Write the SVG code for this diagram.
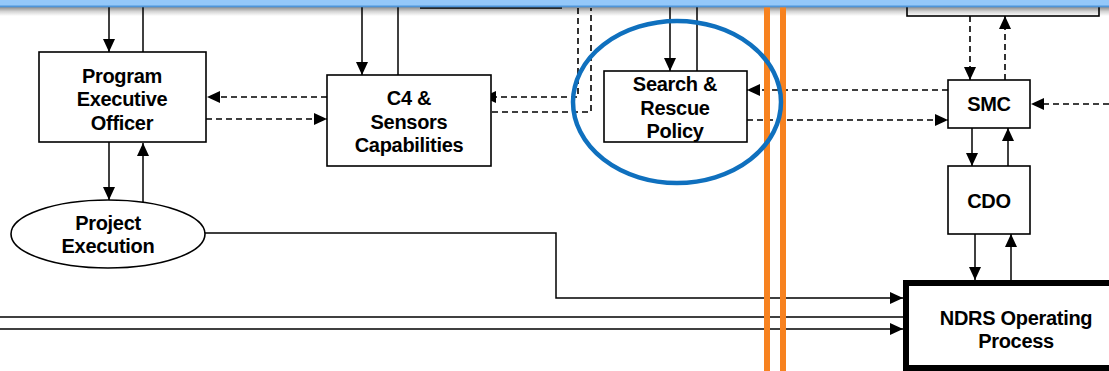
<svg xmlns="http://www.w3.org/2000/svg" width="1109" height="371" viewBox="0 0 1109 371">
  <defs>
    <marker id="arrow" markerUnits="userSpaceOnUse" markerWidth="14" markerHeight="13" refX="13" refY="6" orient="auto">
      <path d="M0,0 L13,6 L0,12 z" fill="#000"/>
    </marker>
    <linearGradient id="shadow" x1="0" y1="0" x2="0" y2="1">
      <stop offset="0" stop-color="#8c8c8c"/>
      <stop offset="0.5" stop-color="#d4d4d4"/>
      <stop offset="1" stop-color="#ffffff"/>
    </linearGradient>
    <style>
      .box { fill: #fff; stroke: #000; stroke-width: 1.6; }
      .open { fill: none; stroke: #000; stroke-width: 1.6; }
      .thick { fill: #fff; stroke: #000; stroke-width: 6; }
      .solid { fill: none; stroke: #000; stroke-width: 1.5; }
      .dash { fill: none; stroke: #000; stroke-width: 1.6; stroke-dasharray: 6 4; }
      .arr { marker-end: url(#arrow); }
      .lbl { font-family: "Liberation Sans", Arial, sans-serif; font-weight: bold; font-size: 20px; fill: #000; text-anchor: middle; letter-spacing: -0.3px; }
      .orange { stroke: #F7821F; stroke-width: 6; fill: none; }
      .ring { stroke: #0F70BE; stroke-width: 4.5; fill: none; }
    </style>
  </defs>

  <rect x="0" y="0" width="1109" height="371" fill="#fff"/>
  <!-- header band shadow -->
  <rect x="0" y="7" width="1109" height="9" fill="url(#shadow)"/>

  <!-- partially visible boxes above the frame -->
  <g id="upper-boxes">
    <line class="solid" x1="420" y1="8" x2="562" y2="8"/>
    <rect class="open" x="907" y="-10" width="192" height="26"/>
  </g>

  <g id="connectors">
    <!-- Program Executive Officer -->
    <line class="solid arr" x1="109" y1="7" x2="109" y2="52"/>
    <line class="solid" x1="143" y1="7" x2="143" y2="52"/>
    <line class="solid arr" x1="109" y1="142" x2="109" y2="200"/>
    <line class="solid arr" x1="143" y1="203" x2="143" y2="143"/>
    <!-- C4 & Sensors Capabilities -->
    <line class="solid arr" x1="362" y1="7" x2="362" y2="75"/>
    <line class="solid" x1="398" y1="7" x2="398" y2="75"/>
    <line class="dash arr" x1="327" y1="97" x2="207" y2="97"/>
    <line class="dash arr" x1="206" y1="119" x2="327" y2="119"/>
    <path class="dash arr" d="M578,8 V97 H483"/>
    <path class="dash" d="M482,112 H591 V8"/>
    <!-- Search & Rescue Policy -->
    <line class="solid arr" x1="670" y1="7" x2="670" y2="71"/>
    <line class="solid" x1="697" y1="7" x2="697" y2="71"/>
    <line class="dash arr" x1="948" y1="90" x2="747" y2="90"/>
    <line class="dash arr" x1="747" y1="120" x2="948" y2="120"/>
    <!-- SMC -->
    <line class="dash arr" x1="970" y1="16" x2="970" y2="80"/>
    <line class="dash arr" x1="1005" y1="80" x2="1005" y2="16"/>
    <line class="dash arr" x1="1109" y1="104" x2="1031" y2="104"/>
    <line class="solid arr" x1="972" y1="128" x2="972" y2="166"/>
    <line class="solid arr" x1="1008" y1="166" x2="1008" y2="128"/>
    <!-- CDO / NDRS -->
    <line class="solid arr" x1="975" y1="234" x2="975" y2="280"/>
    <line class="solid arr" x1="1011" y1="280" x2="1011" y2="234"/>
    <path class="solid arr" d="M205,233 H556 V298 H903"/>
    <line class="solid" x1="0" y1="317" x2="903" y2="317"/>
    <line class="solid arr" x1="0" y1="329" x2="903" y2="329"/>
  </g>

  <g id="peo">
    <rect class="box" x="39" y="52" width="167" height="90"/>
    <text class="lbl" x="122" y="83">Program</text>
    <text class="lbl" x="122" y="106">Executive</text>
    <text class="lbl" x="122" y="130">Officer</text>
  </g>

  <g id="project-execution">
    <ellipse class="box" cx="108" cy="234" rx="97" ry="34"/>
    <text class="lbl" x="108" y="230">Project</text>
    <text class="lbl" x="108" y="253">Execution</text>
  </g>

  <g id="c4">
    <rect class="box" x="327" y="75" width="164" height="91"/>
    <text class="lbl" x="409" y="105">C4 &amp;</text>
    <text class="lbl" x="409" y="129">Sensors</text>
    <text class="lbl" x="409" y="152">Capabilities</text>
  </g>

  <g id="sar-policy">
    <rect class="box" x="604" y="71" width="143" height="71"/>
    <text class="lbl" x="675" y="91">Search &amp;</text>
    <text class="lbl" x="675" y="115">Rescue</text>
    <text class="lbl" x="675" y="138">Policy</text>
  </g>

  <g id="smc">
    <rect class="box" x="948" y="80" width="82" height="48"/>
    <text class="lbl" x="989" y="111">SMC</text>
  </g>

  <g id="cdo">
    <rect class="box" x="948" y="166" width="82" height="68"/>
    <text class="lbl" x="989" y="208">CDO</text>
  </g>

  <g id="ndrs">
    <rect class="thick" x="906" y="283" width="250" height="85"/>
    <text class="lbl" x="1016" y="325">NDRS Operating</text>
    <text class="lbl" x="1016" y="348">Process</text>
  </g>

  <!-- boundary and highlight -->
  <g id="boundary">
    <line class="orange" x1="767" y1="7" x2="767" y2="371"/>
    <line class="orange" x1="783" y1="7" x2="783" y2="371"/>
  </g>
  <g id="highlight">
    <ellipse class="ring" cx="677" cy="102" rx="104" ry="81"/>
  </g>

  <!-- header band -->
  <rect x="0" y="0" width="1109" height="6" fill="#94C8FA"/>
  <rect x="0" y="5.5" width="1109" height="1.8" fill="#4E95DA"/>
</svg>
